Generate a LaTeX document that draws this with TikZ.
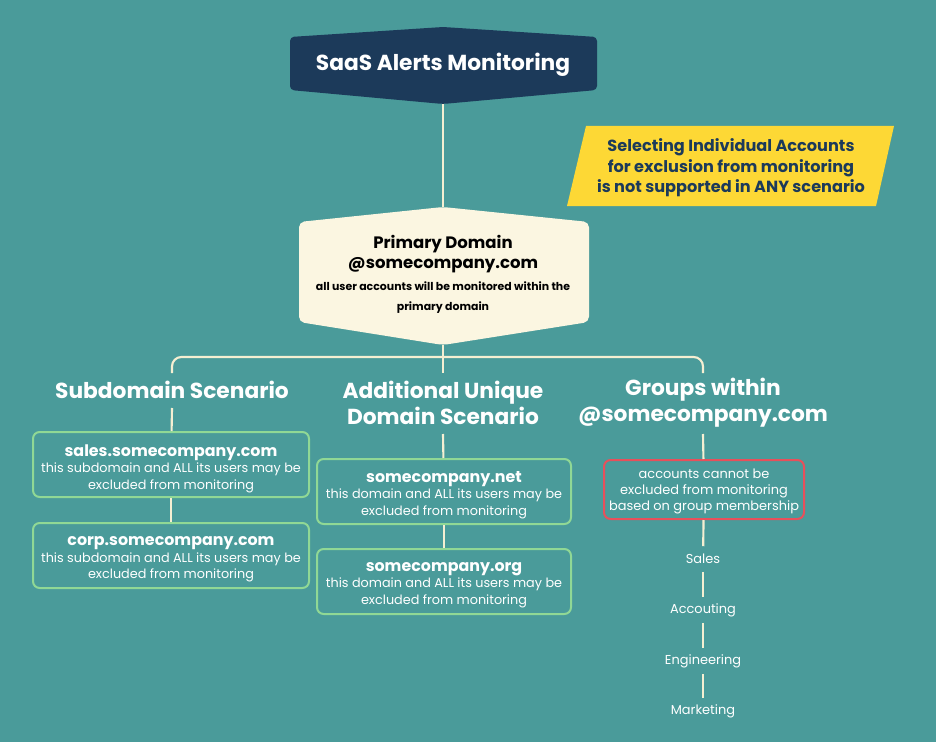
\documentclass[tikz,border=0pt]{standalone}
\usepackage{fontspec}
\setmainfont{Poppins}
\definecolor{bgteal}{HTML}{4A9B9A}
\definecolor{navy}{HTML}{1C3A5A}
\definecolor{sun}{HTML}{FDD835}
\definecolor{creamfill}{HTML}{FBF6E1}
\definecolor{linec}{HTML}{F5EFD2}
\definecolor{boxgreen}{HTML}{90D895}
\definecolor{alertred}{HTML}{E8505B}
\newcommand{\primbig}{\bfseries\fontsize{12.4}{15}\selectfont}
\newcommand{\primsmall}{\bfseries\fontsize{8.2}{15}\selectfont}
\newcommand{\bxhead}{\bfseries\fontsize{11.9}{12.4}\selectfont}
\begin{document}
\begin{tikzpicture}[x=0.75pt,y=-0.75pt,
  conn/.style={draw=linec, line width=1.6pt},
  heading/.style={text=white, font=\bfseries\fontsize{16.3}{19.5}\selectfont, align=center, inner sep=0pt},
  domainbox/.style={draw=boxgreen, line width=1.5pt, rounded corners=5pt,
     minimum height=48.75pt, inner sep=0pt},
  boxtext/.style={text=white, align=center, inner sep=0pt, font=\fontsize{9.6}{12.4}\selectfont},
  grouplabel/.style={text=white, font=\fontsize{9.7}{11}\selectfont, inner sep=0pt, minimum height=18.75pt}]
\fill[bgteal] (0,0) rectangle (936,742);
\useasboundingbox (0,0) rectangle (936,742);

% title
\fill[navy, rounded corners=3pt] (290,37) -- (443,27) -- (597,37) -- (597,90) -- (443,104) -- (290,90) -- cycle;
\node[text=white, font=\bfseries\fontsize{16.3}{19}\selectfont] (title) at (443,65) {SaaS Alerts Monitoring};
\coordinate (titleB) at (443,104);

% yellow note
\fill[sun] (586,126) -- (894,126) -- (876,206) -- (567,206) -- cycle;
\node[text=navy, align=center, font=\bfseries\fontsize{12.1}{15.4}\selectfont] (note) at (731,168)
  {Selecting Individual Accounts\\for exclusion from monitoring\\is not supported in ANY scenario};

% primary domain
\fill[creamfill, rounded corners=4pt] (299,222) -- (443,207) -- (589,222) -- (589,322) -- (443,345) -- (299,322) -- cycle;
\coordinate (primT) at (443,207);
\coordinate (primB) at (443,345);
\node[align=center, text=black, inner sep=0pt, font=\fontsize{10}{15}\selectfont] (prim) at (443,274)
  {\primbig Primary Domain\\\primbig @somecompany.com\\[1.5pt]\primsmall all user accounts will be monitored within the\\\primsmall primary domain};
\draw[conn] (titleB) -- (primT);

% tree
\coordinate (hub) at (443,357);
\coordinate (subTop) at (172,373);
\coordinate (addTop) at (443,373);
\coordinate (grpTop) at (703,373);
\draw[conn] (primB) -- (addTop);
\draw[conn, rounded corners=7pt] (subTop) |- (hub) -| (grpTop);

% headings
\node[heading] (subH) at (172,390) {Subdomain Scenario};
\node[heading] (addH) at (443,403) {Additional Unique\\Domain Scenario};
\node[heading] (grpH) at (703,403) {Groups within\\@somecompany.com};

% subdomain boxes
\node[domainbox, minimum width=207pt] (sales) at (171,464.5) {};
\node[boxtext] (salesT) at ([yshift=-3pt]sales.center)
  {{\bxhead sales.somecompany.com}\\this subdomain and ALL its users may be\\excluded from monitoring};
\node[domainbox, minimum width=207pt] (corp) at (171,555.5) {};
\node[boxtext] (corpT) at ([yshift=-3pt]corp.center)
  {{\bxhead corp.somecompany.com}\\this subdomain and ALL its users may be\\excluded from monitoring};
\coordinate (subLine) at (172,408);
\draw[conn] (subLine) -- (sales);
\draw[conn] (sales) -- (corp);

% additional domain boxes
\node[domainbox, minimum width=190.5pt] (net) at (444,491.5) {};
\node[boxtext] (netT) at ([yshift=-2.5pt]net.center)
  {{\bxhead somecompany.net}\\this domain and ALL its users may be\\excluded from monitoring};
\node[domainbox, minimum width=190.5pt] (org) at (444,581.5) {};
\node[boxtext] (orgT) at ([yshift=-2.5pt]org.center)
  {{\bxhead somecompany.org}\\this domain and ALL its users may be\\excluded from monitoring};
\coordinate (addLine) at (443,434);
\draw[conn] (addLine) -- (net);
\draw[conn] (net) -- (org);

% groups
\node[domainbox, draw=alertred, minimum width=150pt, minimum height=44.25pt] (excl) at (704,489.5) {};
\node[boxtext, font=\fontsize{9.7}{12}\selectfont] (exclT) at ([yshift=-1.5pt]excl.center)
  {accounts cannot be\\excluded from monitoring\\based on group membership};
\coordinate (grpLine) at (703,434);
\draw[conn] (grpLine) -- (excl);
\node[grouplabel] (gs) at (703,559) {Sales};
\node[grouplabel] (ga) at (703,610) {Accouting};
\node[grouplabel] (ge) at (703,661) {Engineering};
\node[grouplabel] (gm) at (703,711) {Marketing};
\draw[conn] (excl) -- (gs);
\draw[conn] (gs) -- (ga);
\draw[conn] (ga) -- (ge);
\draw[conn] (ge) -- (gm);
\end{tikzpicture}
\end{document}
